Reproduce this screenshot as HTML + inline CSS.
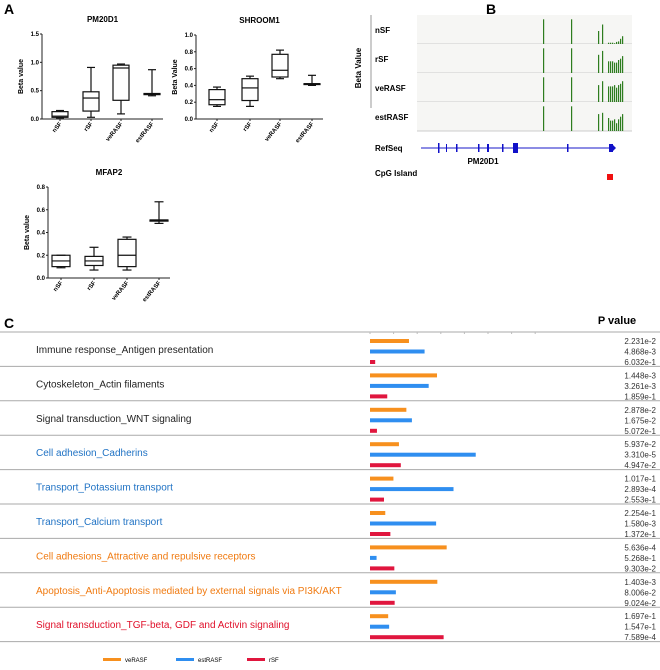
<!DOCTYPE html>
<html><head><meta charset="utf-8"><style>
body{margin:0;background:#fff}
svg{display:block;font-family:"Liberation Sans",Arial,sans-serif}
</style></head><body>
<svg id="fig" width="660" height="670" viewBox="0 0 660 670">
<text x="4" y="14" font-size="14" font-weight="bold">A</text>
<text x="486" y="14" font-size="14" font-weight="bold">B</text>
<text x="4" y="328" font-size="14" font-weight="bold">C</text>
<g id="boxes"></g>
<g id="trackB"></g>
<g id="pathC"></g>
</svg>
<script>
const NS="http://www.w3.org/2000/svg";
function mk(p,t,a,txt){const e=document.createElementNS(NS,t);for(const k in a)e.setAttribute(k,a[k]);if(txt!=null)e.textContent=txt;p.appendChild(e);return e;}

// ---- Panel A data ----
const groups=["nSF","rSF","veRASF","estRASF"];
const pmStats=[[0.02,0.03,0.05,0.13,0.15],[0.03,0.14,0.37,0.48,0.91],[0.09,0.33,0.90,0.95,0.97],[0.41,0.43,0.44,0.45,0.87]];
const shStats=[[0.15,0.17,0.23,0.35,0.38],[0.15,0.22,0.37,0.48,0.51],[0.48,0.50,0.58,0.77,0.82],[0.40,0.41,0.42,0.42,0.52]];
const mfStats=[[0.09,0.10,0.15,0.20,0.20],[0.07,0.11,0.15,0.19,0.27],[0.07,0.10,0.20,0.34,0.36],[0.48,0.50,0.51,0.51,0.67]];
const pmTicks=["0.0","0.5","1.0","1.5"];
const shTicks=["0.0","0.2","0.4","0.6","0.8","1.0"];
const mfTicks=["0.0","0.2","0.4","0.6","0.8"];

const boxes=document.getElementById('boxes');
function boxPlot(name,title,ylab,stats,ticks,ymax,ax,yTop,yBot,centers,xend,boxW){
  const g=mk(boxes,'g',{});
  
  
  const y=v=>yBot-(v/ymax)*(yBot-yTop);
  const t=mk(g,'text',{x:(ax+xend)/2,y:yTop-12,'font-size':8,'font-weight':'bold','text-anchor':'middle'},title);
  
  const yl=mk(g,'text',{x:0,y:0,'font-size':7,'font-weight':'bold','text-anchor':'middle',transform:`translate(${ax-19},${(yTop+yBot)/2}) rotate(-90)`},ylab);
  
  mk(g,'line',{x1:ax,y1:yTop,x2:ax,y2:yBot,stroke:'#222','stroke-width':1});
  mk(g,'line',{x1:ax,y1:yBot,x2:xend,y2:yBot,stroke:'#222','stroke-width':1});
  ticks.forEach(tk=>{const v=parseFloat(tk);
    mk(g,'line',{x1:ax-2,y1:y(v),x2:ax,y2:y(v),stroke:'#222'});
    const tt=mk(g,'text',{x:ax-3,y:y(v)+2,'font-size':6,'font-weight':'bold','text-anchor':'end'},tk);
    
  });
  stats.forEach((s,i)=>{const c=centers[i];const w=boxW;
    const bg=mk(g,'g',{stroke:'#111','stroke-width':1.2,fill:'none'});
    
    mk(bg,'line',{x1:c,y1:y(s[0]),x2:c,y2:y(s[4])});
    mk(bg,'rect',{x:c-w/2,y:y(s[3]),width:w,height:Math.max(0.5,y(s[1])-y(s[3])),fill:'#fff'});
    mk(bg,'line',{x1:c-w/2,y1:y(s[2]),x2:c+w/2,y2:y(s[2])});
    mk(bg,'line',{x1:c-w/4,y1:y(s[0]),x2:c+w/4,y2:y(s[0])});
    mk(bg,'line',{x1:c-w/4,y1:y(s[4]),x2:c+w/4,y2:y(s[4])});
    mk(g,'line',{x1:c,y1:yBot,x2:c,y2:yBot+2,stroke:'#222'});
    const xl=mk(g,'text',{x:0,y:0,'font-size':6,'font-weight':'bold','text-anchor':'end',transform:`translate(${c+2},${yBot+5}) rotate(-50)`},groups[i]);
    
  });
}
boxPlot('pm20d1','PM20D1','Beta value',pmStats,pmTicks,1.5,42,34,119,[60,91,121,152],163,16);
boxPlot('shroom1','SHROOM1','Beta Value',shStats,shTicks,1.0,196,35,119,[217,250,280,312],323,16);
boxPlot('mfap2','MFAP2','Beta value',mfStats,mfTicks,0.8,48,187,278,[61,94,127,159],170,18);

// ---- Panel B ----
const tracks=["nSF","rSF","veRASF","estRASF"];
const siteX=[543,571,598,602,608,610,612,614,616,618,620,622];
const nsfH=[0.95,0.95,0.5,0.75,0.05,0.05,0.05,0.03,0.08,0.1,0.2,0.3];
const rsfH=[0.95,0.95,0.7,0.85,0.45,0.45,0.45,0.4,0.4,0.5,0.55,0.65];
const verH=[0.95,0.95,0.65,0.8,0.6,0.6,0.6,0.65,0.55,0.65,0.7,0.8];
const estH=[0.95,0.95,0.65,0.7,0.5,0.4,0.4,0.45,0.3,0.45,0.55,0.65];
const trackVals=[nsfH,rsfH,verH,estH];
const B=document.getElementById('trackB');
const tTop=15,tH=29,tX1=417,tX2=632;
trackVals.forEach((vals,i)=>{
  const g=mk(B,'g',{});
  
  const y0=tTop+i*tH;
  mk(g,'rect',{x:tX1,y:y0,width:tX2-tX1,height:tH,fill:'#f6f6f4'});
  mk(g,'line',{x1:tX1,y1:y0+tH,x2:tX2,y2:y0+tH,stroke:'#ccc'});
  const l=mk(g,'text',{x:375,y:y0+18,'font-size':8,'font-weight':'bold'},tracks[i]);
  
  vals.forEach((v,j)=>{const h=v*(tH-3);
    mk(g,'rect',{x:siteX[j],y:y0+tH-h,width:1.2,height:h,fill:'#2e7d1f'});
  });
});
mk(B,'line',{x1:371,y1:15,x2:371,y2:108,stroke:'#999'});
const bv=mk(B,'text',{x:0,y:0,'font-size':8,'font-weight':'bold','text-anchor':'middle',transform:'translate(361,68) rotate(-90)'},'Beta Value');

const rs=mk(B,'text',{x:375,y:151,'font-size':8,'font-weight':'bold'},'RefSeq');

const cg=mk(B,'text',{x:375,y:176,'font-size':8,'font-weight':'bold'},'CpG Island');

const gene=mk(B,'g',{});

mk(gene,'line',{x1:421,y1:148,x2:612,y2:148,stroke:'#1a1ac8','stroke-width':1});
[[438,1.5,10],[446,1,8],[456,1.5,8],[478,1.5,8],[487,2,8],[502,1.5,8],[513,5,10],[567,1.5,8],[609,4,8]].forEach(e=>{
  mk(gene,'rect',{x:e[0],y:148-e[2]/2,width:e[1],height:e[2],fill:'#1010c8'});});
mk(gene,'polygon',{points:'613,145 616,148 613,151',fill:'#1010c8'});
const pm=mk(B,'text',{x:483,y:164,'font-size':8,'font-weight':'bold','text-anchor':'middle'},'PM20D1');

const cpg=mk(B,'rect',{x:607,y:174,width:6,height:6,fill:'#f01010'});


// ---- Panel C ----
const pathways=["Immune response_Antigen presentation","Cytoskeleton_Actin filaments","Signal transduction_WNT signaling","Cell adhesion_Cadherins","Transport_Potassium transport","Transport_Calcium transport","Cell adhesions_Attractive and repulsive receptors","Apoptosis_Anti-Apoptosis mediated by external signals via PI3K/AKT","Signal transduction_TGF-beta, GDF and Activin signaling"];
const labelColors=["#222","#222","#222","#1f72c4","#1f72c4","#1f72c4","#f07a10","#f07a10","#e0102a"];
const veP=["2.231e-2","1.448e-3","2.878e-2","5.937e-2","1.017e-1","2.254e-1","5.636e-4","1.403e-3","1.697e-1"];
const estP=["4.868e-3","3.261e-3","1.675e-2","3.310e-5","2.893e-4","1.580e-3","5.268e-1","8.006e-2","1.547e-1"];
const rsfP=["6.032e-1","1.859e-1","5.072e-1","4.947e-2","2.553e-1","1.372e-1","9.303e-2","9.024e-2","7.589e-4"];
const seriesNames=["veRASF","estRASF","rSF"];
const seriesColors=["#f7901e","#2f8ef0","#e0163e"];
const C=document.getElementById('pathC');
const cX0=370,cScale=23.6,cTop=332,cGh=34.4;
const xs=p=>cX0+(-Math.log10(parseFloat(p)))*cScale;
const pv=mk(C,'text',{x:617,y:324,'font-size':11,'font-weight':'bold','text-anchor':'middle'},'P value');

mk(C,'line',{x1:0,y1:cTop,x2:660,y2:cTop,stroke:'#bbb','stroke-width':1.2});
for(let k=0;k<8;k++)mk(C,'line',{x1:cX0+k*23.6,y1:cTop,x2:cX0+k*23.6,y2:cTop+2,stroke:'#bbb'});
pathways.forEach((name,i)=>{
  const gy=cTop+i*cGh;
  const g=mk(C,'g',{});
  
  const lt=mk(g,'text',{x:36,y:gy+21,'font-size':10,fill:labelColors[i]},name);
  
  [veP,estP,rsfP].forEach((arr,s)=>{
    const by=gy+7+s*10.5;
    const r=mk(g,'rect',{x:cX0,y:by,width:Math.max(0,xs(arr[i])-cX0),height:4,fill:seriesColors[s]});
    
    const pt=mk(g,'text',{x:656,y:by+5,'font-size':8,'text-anchor':'end',fill:'#333'},arr[i]);
    
  });
  mk(g,'line',{x1:0,y1:gy+cGh,x2:660,y2:gy+cGh,stroke:'#aaa','stroke-width':1});
});
const legX=[103,176,247];
seriesNames.forEach((n,s)=>{
  const g=mk(C,'g',{});
  
  mk(g,'rect',{x:legX[s],y:658,width:18,height:3,fill:seriesColors[s]});
  mk(g,'text',{x:legX[s]+22,y:662,'font-size':6},n);
});
</script>
</body></html>
